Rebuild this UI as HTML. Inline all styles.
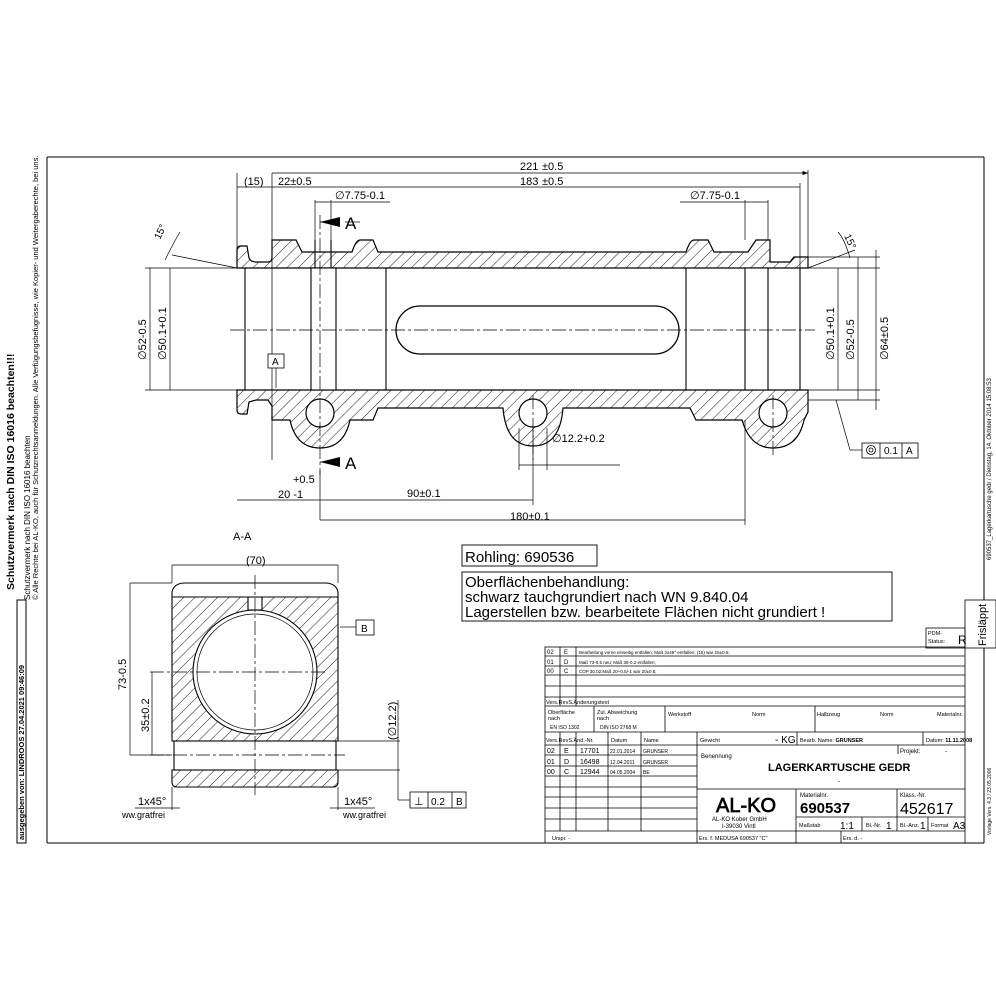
<!DOCTYPE html>
<html><head><meta charset="utf-8"><style>
html,body{margin:0;padding:0;background:#fff}
svg{display:block}
text{font-family:"Liberation Sans",sans-serif;fill:#000}
</style></head><body>
<svg width="996" height="996" viewBox="0 0 996 996" xmlns="http://www.w3.org/2000/svg">
<defs>
<pattern id="h" width="8" height="8" patternUnits="userSpaceOnUse" patternTransform="rotate(45)">
<line x1="0" y1="0" x2="0" y2="8" stroke="#000" stroke-width="0.9"/>
</pattern>
<marker id="ar" markerWidth="8" markerHeight="6" refX="8" refY="3" orient="auto"><path d="M0,0L8,3L0,6z" fill="#000"/></marker>
</defs>
<rect width="996" height="996" fill="#fff"/>
<g stroke="#000" fill="none" stroke-width="1">
<line x1="47" y1="157" x2="984" y2="157"/>
<line x1="47" y1="157" x2="47" y2="843"/>
<line x1="47" y1="843" x2="984" y2="843"/>
<line x1="984" y1="157" x2="984" y2="600"/>
<line x1="984" y1="648" x2="984" y2="843"/>
<rect x="17" y="600" width="9" height="243"/>
</g>
<text transform="translate(14,590) rotate(-90)" font-size="10.5" font-weight="bold">Schutzvermerk nach DIN ISO 16016 beachten!!!</text>
<text transform="translate(30,600) rotate(-90)" font-size="8">Schutzvermerk nach DIN ISO 16016 beachten</text>
<text transform="translate(38,600) rotate(-90)" font-size="7.5">© Alle Rechte bei AL-KO, auch für Schutzrechtsanmeldungen. Alle Verfügungsbefugnisse, wie Kopier- und Weitergaberechte, bei uns.</text>
<text transform="translate(24,840) rotate(-90)" font-size="7.5" font-weight="bold">ausgegeben von: LINDROOS 27.04.2021 09:46:09</text>
<text transform="translate(991,560) rotate(-90)" font-size="6">690537_Lagerkartusche gedr / Dienstag, 14. Oktober 2014 15:08:53</text>
<text transform="translate(991,835) rotate(-90)" font-size="5">Vorlage Vers. 4.3 / 23.05.2006</text>

<g stroke="#000" stroke-width="1.2">
<path fill="url(#h)" d="M237,268 L237,250 Q237,246 241,246 L247,246 L249,258 Q251,262 256,262 L268,262 Q272,262 272,257 L272,240 L296,240 L302,252 L352,252 Q356,240 360,240 L373,240 L378,252 L686,252 Q690,240 694,240 L708,240 L714,252 L748,252 L756,240 L770,240 L770,262 L790,262 L794,257 L808,257 L808,268 Z"/>
<path fill="url(#h)" d="M237,390 L237,410 Q237,414 241,414 L247,414 L249,402 L256,400 L268,400 L272,406 L272,420 L290,420 Q296,448 320,448 Q344,448 350,420 L373,420 L378,408 L503,408 Q506,446 533,446 Q560,446 563,408 L690,408 L696,420 L742,420 Q750,448 773,448 Q798,448 804,420 L808,412 L808,390 Z"/>
<circle cx="320" cy="413" r="14" fill="#fff"/>
<circle cx="533" cy="413" r="14" fill="#fff"/>
<circle cx="773" cy="413" r="14" fill="#fff"/>
</g>
<g stroke="#000" fill="none" stroke-width="1.1">
<line x1="237" y1="268" x2="808" y2="268"/>
<line x1="237" y1="390" x2="808" y2="390"/>
<line x1="245" y1="268" x2="245" y2="390"/>
<rect x="311" y="268" width="25" height="122" fill="#fff"/>
<line x1="315" y1="240" x2="315" y2="268"/>
<line x1="331" y1="240" x2="331" y2="268"/>
<line x1="386" y1="268" x2="386" y2="390"/>
<line x1="686" y1="268" x2="686" y2="390"/>
<rect x="745" y="268" width="23" height="122" fill="#fff"/>
<line x1="800" y1="268" x2="800" y2="390"/>
<path d="M420,306 L655,306 A24,24 0 0 1 655,354 L420,354 A24,24 0 0 1 420,306 Z" stroke-width="1.3"/>
</g>
<g stroke="#000" stroke-width="0.7" stroke-dasharray="14,3,3,3" fill="none">
<line x1="230" y1="330" x2="815" y2="330"/>
<line x1="320" y1="215" x2="320" y2="475"/>
<line x1="533" y1="395" x2="533" y2="460"/>
<line x1="773" y1="395" x2="773" y2="455"/>
</g>
<g stroke="#000" stroke-width="0.7" fill="none">
<line x1="237" y1="173" x2="237" y2="250"/>
<line x1="272" y1="173" x2="272" y2="460"/>
<line x1="808" y1="170" x2="808" y2="258"/>
<line x1="272" y1="173" x2="808" y2="173" marker-end="url(#ar)"/>
<line x1="237" y1="187" x2="272" y2="187"/>
<line x1="272" y1="187" x2="800" y2="187"/>
<line x1="800" y1="183" x2="800" y2="268"/>
<line x1="315" y1="200" x2="315" y2="240"/>
<line x1="331" y1="200" x2="331" y2="240"/>
<line x1="315" y1="202" x2="390" y2="202"/>
<line x1="745" y1="200" x2="745" y2="240"/>
<line x1="768" y1="200" x2="768" y2="240"/>
<line x1="680" y1="202" x2="768" y2="202"/>
<line x1="320" y1="222" x2="340" y2="222"/>
<line x1="320" y1="462" x2="340" y2="462"/>
<line x1="145" y1="268" x2="237" y2="268"/>
<line x1="145" y1="390" x2="237" y2="390"/>
<line x1="150" y1="268" x2="150" y2="390"/>
<line x1="170" y1="268" x2="170" y2="390"/>
<line x1="808" y1="268" x2="880" y2="268"/>
<line x1="808" y1="257" x2="880" y2="257"/>
<line x1="808" y1="390" x2="880" y2="390"/>
<line x1="808" y1="400" x2="880" y2="400"/>
<line x1="838" y1="268" x2="838" y2="390"/>
<line x1="858" y1="257" x2="858" y2="400"/>
<line x1="876" y1="250" x2="876" y2="410"/>
<line x1="172" y1="255" x2="237" y2="268"/>
<path d="M165,260 Q175,240 180,232"/>
<line x1="808" y1="268" x2="855" y2="250"/>
<path d="M850,258 Q845,240 838,232"/>
<line x1="237" y1="500" x2="272" y2="500"/>
<line x1="272" y1="500" x2="320" y2="500"/>
<line x1="320" y1="470" x2="320" y2="520"/>
<line x1="320" y1="500" x2="533" y2="500"/>
<line x1="533" y1="430" x2="533" y2="505"/>
<line x1="320" y1="520" x2="745" y2="520"/>
<line x1="745" y1="420" x2="745" y2="525"/>
<line x1="519" y1="428" x2="519" y2="470"/>
<line x1="547" y1="428" x2="547" y2="470"/>
<line x1="519" y1="465" x2="620" y2="465"/>
<line x1="276" y1="368" x2="276" y2="388"/>
<line x1="836" y1="400" x2="850" y2="450"/>
<line x1="850" y1="450" x2="862" y2="450"/>
<line x1="360" y1="222" x2="345" y2="222"/>
</g>
<path d="M320,222 L340,217 L340,227z M320,462 L340,457 L340,467z" fill="#000"/>
<text x="345" y="229" font-size="17">A</text>
<text x="345" y="469" font-size="17">A</text>
<rect x="268" y="354" width="16" height="14" fill="#fff" stroke="#000" stroke-width="0.8"/>
<text x="272" y="365" font-size="10">A</text>
<g font-size="11">
<text x="520" y="170">221</text><text x="542" y="170">±0.5</text>
<text x="520" y="185">183</text><text x="542" y="185">±0.5</text>
<text x="244" y="185">(15)</text>
<text x="278" y="185">22±0.5</text>
<text x="335" y="199">∅7.75-0.1</text>
<text x="690" y="199">∅7.75-0.1</text>
<text x="552" y="442">∅12.2+0.2</text>
<text x="293" y="483">+0.5</text>
<text x="278" y="498">20 -1</text>
<text x="407" y="497">90±0.1</text>
<text x="510" y="520">180±0.1</text>
<text x="233" y="540">A-A</text>
<text transform="translate(160,240) rotate(-65)" font-size="10">15°</text>
<text transform="translate(844,236) rotate(65)" font-size="10">15°</text>
<text transform="translate(146,360) rotate(-90)">∅52-0.5</text>
<text transform="translate(166,360) rotate(-90)">∅50.1+0.1</text>
<text transform="translate(834,360) rotate(-90)">∅50.1+0.1</text>
<text transform="translate(854,360) rotate(-90)">∅52-0.5</text>
<text transform="translate(888,360) rotate(-90)">∅64±0.5</text>
</g>
<g stroke="#000" stroke-width="0.8" fill="#fff">
<rect x="862" y="443" width="56" height="15"/>
<line x1="880" y1="443" x2="880" y2="458"/><line x1="902" y1="443" x2="902" y2="458"/>
<circle cx="871" cy="450" r="4.5" fill="none"/><circle cx="871" cy="450" r="2" fill="none"/>
</g>
<text x="884" y="454" font-size="10">0.1</text><text x="906" y="454" font-size="10">A</text>

<g stroke="#000" stroke-width="1.1">
<path fill="url(#h)" d="M172,597 L338,597 L338,741 L172,741 Z"/>
<path fill="url(#h)" d="M172,770 L338,770 L338,782 Q338,787 333,787 L177,787 Q172,787 172,782 Z"/>
<rect x="174" y="741" width="162" height="29" fill="#fff"/>
<circle cx="255" cy="672" r="62" fill="#fff"/>
<circle cx="255" cy="672" r="58" fill="none" stroke-width="0.7"/>
<rect x="248" y="597" width="14" height="13" fill="#fff"/>
<path d="M172,597 L172,592 Q174,583 185,583 L325,583 Q336,583 338,592 L338,597 Z" fill="#fff"/>
</g>
<g stroke="#000" stroke-width="0.7" fill="none">
<line x1="255" y1="575" x2="255" y2="795" stroke-dasharray="14,3,3,3"/>
<line x1="150" y1="672" x2="325" y2="672" stroke-dasharray="14,3,3,3"/>
<line x1="150" y1="755" x2="345" y2="755" stroke-dasharray="14,3,3,3"/>
<line x1="172" y1="565" x2="172" y2="583"/><line x1="338" y1="565" x2="338" y2="583"/>
<line x1="172" y1="565" x2="338" y2="565"/>
<line x1="130" y1="583" x2="172" y2="583"/><line x1="130" y1="755" x2="172" y2="755"/>
<line x1="130" y1="583" x2="130" y2="755"/>
<line x1="152" y1="672" x2="152" y2="755"/>
<line x1="338" y1="741" x2="400" y2="741"/><line x1="338" y1="770" x2="400" y2="770"/>
<line x1="398" y1="700" x2="398" y2="800"/>
<line x1="398" y1="800" x2="410" y2="800"/>
<line x1="340" y1="627" x2="356" y2="627"/>
<line x1="172" y1="787" x2="172" y2="810"/><line x1="338" y1="787" x2="338" y2="810"/>
<line x1="135" y1="808" x2="180" y2="808"/><line x1="330" y1="808" x2="375" y2="808"/>
</g>
<rect x="356" y="620" width="18" height="15" fill="#fff" stroke="#000" stroke-width="0.8"/>
<text x="361" y="632" font-size="10">B</text>
<g stroke="#000" stroke-width="0.8" fill="#fff">
<rect x="410" y="792" width="56" height="16"/>
<line x1="428" y1="792" x2="428" y2="808"/><line x1="452" y1="792" x2="452" y2="808"/>
</g>
<text x="414" y="805" font-size="11">⊥</text><text x="431" y="805" font-size="10">0.2</text><text x="456" y="805" font-size="10">B</text>
<g font-size="11">
<text x="246" y="564">(70)</text>
<text transform="translate(126,690) rotate(-90)">73-0.5</text>
<text transform="translate(149,732) rotate(-90)">35±0.2</text>
<text transform="translate(396,740) rotate(-90)">(∅12.2)</text>
<text x="138" y="805">1x45°</text>
<text x="344" y="805">1x45°</text>
<text x="122" y="818" font-size="9">ww.gratfrei</text>
<text x="343" y="818" font-size="9">ww.gratfrei</text>
</g>

<rect x="462" y="545" width="135" height="21" fill="none" stroke="#000" stroke-width="0.9"/>
<text x="465" y="562" font-size="15">Rohling: 690536</text>
<rect x="462" y="572" width="430" height="49" fill="none" stroke="#000" stroke-width="0.9"/>
<text x="465" y="587" font-size="15">Oberflächenbehandlung:</text>
<text x="465" y="602" font-size="15">schwarz tauchgrundiert nach WN 9.840.04</text>
<text x="465" y="617" font-size="15">Lagerstellen bzw. bearbeitete Flächen nicht grundiert !</text>

<g stroke="#000" stroke-width="0.8" fill="none">
<rect x="926" y="628" width="39" height="20"/>
<rect x="965" y="600" width="31" height="48"/>
<rect x="545" y="647" width="420" height="196"/>
<line x1="545" y1="656" x2="965" y2="656"/>
<line x1="545" y1="666" x2="965" y2="666"/>
<line x1="545" y1="675" x2="965" y2="675"/>
<line x1="545" y1="686" x2="965" y2="686"/>
<line x1="545" y1="697" x2="965" y2="697"/>
<line x1="545" y1="706" x2="965" y2="706"/>
<line x1="545" y1="732" x2="965" y2="732"/>
<line x1="545" y1="745" x2="697" y2="745"/>
<line x1="545" y1="755" x2="697" y2="755"/>
<line x1="545" y1="766" x2="697" y2="766"/>
<line x1="545" y1="776" x2="697" y2="776"/>
<line x1="545" y1="787" x2="697" y2="787"/>
<line x1="545" y1="797" x2="697" y2="797"/>
<line x1="545" y1="808" x2="697" y2="808"/>
<line x1="545" y1="819" x2="697" y2="819"/>
<line x1="545" y1="831" x2="965" y2="831"/>
<line x1="697" y1="745" x2="965" y2="745"/>
<line x1="697" y1="789" x2="965" y2="789"/>
<line x1="796" y1="789" x2="796" y2="843"/>
<line x1="796" y1="817" x2="965" y2="817"/>
<line x1="897" y1="789" x2="897" y2="831"/>
<line x1="862" y1="817" x2="862" y2="831"/>
<line x1="928" y1="817" x2="928" y2="831"/>
<line x1="560" y1="647" x2="560" y2="706"/>
<line x1="576" y1="647" x2="576" y2="706"/>
<line x1="560" y1="732" x2="560" y2="831"/>
<line x1="576" y1="732" x2="576" y2="831"/>
<line x1="608" y1="732" x2="608" y2="831"/>
<line x1="641" y1="732" x2="641" y2="831"/>
<line x1="697" y1="732" x2="697" y2="843"/>
<line x1="594" y1="706" x2="594" y2="732"/>
<line x1="665" y1="706" x2="665" y2="732"/>
<line x1="815" y1="706" x2="815" y2="732"/>
<line x1="797" y1="732" x2="797" y2="745"/>
<line x1="923" y1="732" x2="923" y2="745"/>
<line x1="898" y1="745" x2="898" y2="754"/>
<line x1="841" y1="831" x2="841" y2="843"/>
</g>
<text x="928" y="635" font-size="5.5">PDM-</text><text x="928" y="643" font-size="5.5">Status:</text>
<text x="958" y="644" font-size="12">R</text>
<text transform="translate(986,646) rotate(-90)" font-size="11">Frisläppt</text>
<g font-size="6">
<text x="547" y="654">02</text><text x="564" y="654">E</text><text x="579" y="654" font-size="4.5">Bearbeitung vorne einseitig entfallen: Maß 2x45° entfallen; (15) war 15±0.5;</text>
<text x="547" y="664">01</text><text x="564" y="664">D</text><text x="579" y="664" font-size="4.5">Maß 73-0.5 neu; Maß 38-0.2 entfallen;</text>
<text x="547" y="673">00</text><text x="564" y="673">C</text><text x="579" y="673" font-size="4.5">COP 30.02:Maß 20+0.5/-1 war 20±0.5;</text>
<text x="546" y="704" font-size="5.5">Vers.RevS.Änderungstext</text>
<text x="548" y="714" font-size="5.5">Oberfläche</text><text x="548" y="720" font-size="5.5">nach</text><text x="550" y="729" font-size="5">EN ISO 1302</text>
<text x="597" y="714" font-size="5.5">Zul. Abweichung</text><text x="597" y="720" font-size="5.5">nach</text><text x="600" y="729" font-size="5">DIN ISO 2768 M</text>
<text x="668" y="716" font-size="5.5">Werkstoff</text><text x="752" y="716" font-size="5.5">Norm</text>
<text x="817" y="716" font-size="5.5">Halbzeug</text><text x="880" y="716" font-size="5.5">Norm</text><text x="937" y="716" font-size="5.5">Materialnr.</text>
<text x="546" y="742" font-size="5.5">Vers.RevS.Änd.-Nr.</text><text x="611" y="742" font-size="5.5">Datum</text><text x="644" y="742" font-size="5.5">Name</text>
<text x="700" y="742" font-size="5.5">Gewicht</text><text x="775" y="743" font-size="10">- KG</text>
<text x="800" y="742" font-size="5.5">Bearb. Name: <tspan font-weight="bold">GRUNSER</tspan></text>
<text x="926" y="742" font-size="5.5">Datum: <tspan font-weight="bold">11.11.2008</tspan></text>
<text x="547" y="753" font-size="7">02</text><text x="564" y="753" font-size="7">E</text><text x="580" y="753" font-size="7">17701</text><text x="610" y="753" font-size="5">22.01.2014</text><text x="643" y="753" font-size="5">GRUNSER</text>
<text x="547" y="764" font-size="7">01</text><text x="564" y="764" font-size="7">D</text><text x="580" y="764" font-size="7">16498</text><text x="610" y="764" font-size="5">12.04.2011</text><text x="643" y="764" font-size="5">GRUNSER</text>
<text x="547" y="774" font-size="7">00</text><text x="564" y="774" font-size="7">C</text><text x="580" y="774" font-size="7">12944</text><text x="610" y="774" font-size="5">04.05.2004</text><text x="643" y="774" font-size="5">BE</text>
<text x="701" y="758" font-size="6">Benennung</text><text x="900" y="753" font-size="6">Projekt:</text><text x="945" y="753">-</text>
<text x="768" y="771" font-size="11" font-weight="bold">LAGERKARTUSCHE GEDR</text>
<text x="838" y="783">-</text>
<text x="716" y="812" font-size="20" fill="none" stroke="#000" stroke-width="0.7">AL-KO</text>
<text x="712" y="821" font-size="6">AL-KO Kober GmbH</text><text x="722" y="828" font-size="6">I-39030 Vintl</text>
<text x="800" y="797" font-size="6">Materialnr.</text>
<text x="800" y="813" font-size="15" font-weight="bold">690537</text>
<text x="900" y="797" font-size="6">Klass.-Nr.</text>
<text x="900" y="814" font-size="16">452617</text>
<text x="799" y="827" font-size="5.5">Maßstab</text><text x="840" y="829" font-size="10">1:1</text>
<text x="866" y="827" font-size="5.5">Bl.-Nr.</text><text x="886" y="829" font-size="10">1</text>
<text x="900" y="827" font-size="5.5">Bl.-Anz.</text><text x="920" y="829" font-size="10">1</text>
<text x="931" y="827" font-size="5.5">Format</text><text x="953" y="829" font-size="10">A3</text>
<text x="552" y="840" font-size="5.5">Urspr. -</text>
<text x="699" y="840" font-size="5.5">Ers. f. MEDUSA 690537 "C"</text>
<text x="843" y="840" font-size="5.5">Ers. d. -</text>
</g>
</svg>
</body></html>
